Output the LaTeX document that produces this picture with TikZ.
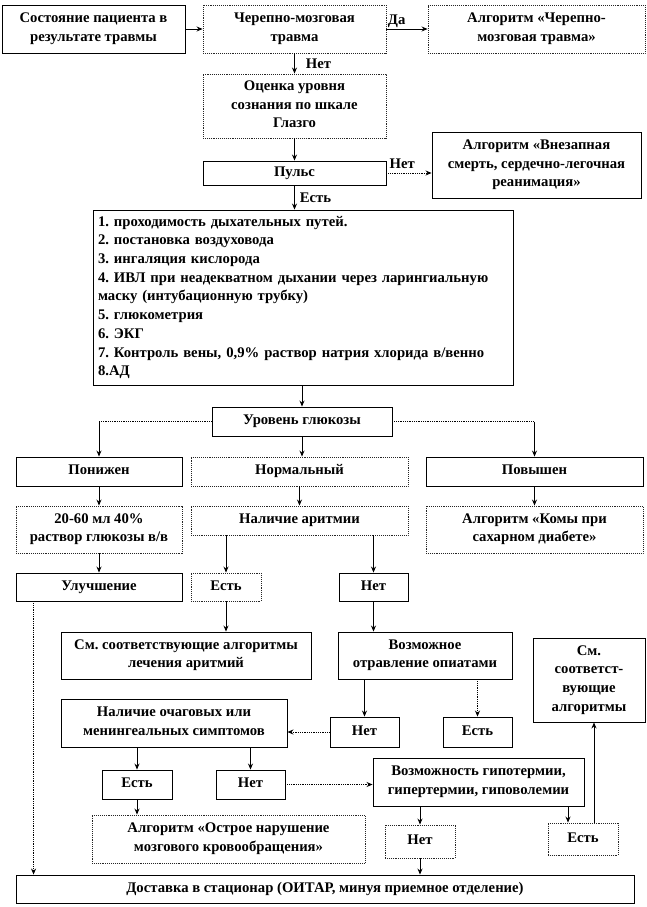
\documentclass[tikz,border=0pt]{standalone}
\usepackage{fontspec}
\setmainfont{Liberation Serif}
\frenchspacing
\usetikzlibrary{arrows.meta,calc}
\tikzset{
 base/.style={font=\bfseries\fontsize{14.7}{18.7}\selectfont, align=center, inner sep=0pt, text depth=3.5pt, line width=0.9pt},
 sbox/.style={base, draw=black},
 dbox/.style={base, draw=black!85, densely dotted},
 arr/.style={-{Stealth[length=6pt,width=5pt]}, line width=0.8pt, black},
 darr/.style={arr, densely dotted},
 dline/.style={line width=0.8pt, densely dotted},
 lbl/.style={font=\bfseries\fontsize{14.7}{16}\selectfont, inner sep=1pt},
}
\newcommand\bx[7]{\node[#6, minimum width={(#4)-(#2)}, minimum height={(#5)-(#3)}] (#1) at ({((#2)+(#4))/2},{((#3)+(#5))/2}) {#7};}
\begin{document}
\begin{tikzpicture}[x=1pt,y=-1pt]
\useasboundingbox (0,0) rectangle (646,907);
\bx{s}{2}{5}{185}{53}{sbox}{Состояние пациента в\\результате травмы}
\bx{tbi}{203}{5}{386}{53}{dbox}{Черепно-мозговая\\травма}
\bx{atbi}{428}{5}{645}{53}{dbox}{Алгоритм «Черепно-\\мозговая травма»}
\bx{gcs}{203}{74}{386}{138}{dbox}{Оценка уровня\\сознания по шкале\\Глазго}
\bx{pulse}{203}{161}{386}{185}{sbox}{Пульс}
\bx{cpr}{432}{132}{641}{198}{sbox}{Алгоритм «Внезапная\\смерть, сердечно-легочная\\реанимация»}
\node[sbox, align=left, text depth=, text width=410pt, minimum height=175pt, inner xsep=5pt] (list) at (303,297.5) {%
1. проходимость дыхательных путей.\\
2. постановка воздуховода\\
3. ингаляция кислорода\\
4. ИВЛ при неадекватном дыхании через ларингиальную\\
маску (интубационную трубку)\\
5. глюкометрия\\
6. ЭКГ\\
7. Контроль вены, 0,9\% раствор натрия хлорида в/венно\\
8.АД};
\bx{glu}{212}{407}{392}{436}{sbox}{Уровень глюкозы}
\bx{low}{16}{457}{182}{486}{sbox}{Понижен}
\bx{norm}{191}{457}{408}{486}{dbox}{Нормальный}
\bx{high}{426}{457}{643}{486}{sbox}{Повышен}
\bx{dex}{16}{506}{182}{553}{dbox}{20-60 мл 40\%\\раствор глюкозы в/в}
\bx{arrh}{191}{506}{408}{535}{dbox}{Наличие аритмии}
\bx{coma}{426}{506}{643}{553}{dbox}{Алгоритм «Комы при\\сахарном диабете»}
\bx{impr}{16}{573}{182}{601}{sbox}{Улучшение}
\bx{yes1}{191}{573}{261}{601}{dbox}{Есть}
\bx{no1}{339}{573}{408}{601}{sbox}{Нет}
\bx{seea}{61}{632}{311}{679}{sbox}{См. соответствующие алгоритмы\\лечения аритмий}
\bx{opi}{338}{632}{512}{679}{sbox}{Возможное\\отравление опиатами}
\bx{seeo}{533}{638}{645}{722}{sbox}{См.\\соответст-\\вующие\\алгоритмы}
\bx{foc}{61}{699}{287}{747}{sbox}{Наличие очаговых или\\менингеальных симптомов}
\bx{no2}{330}{717}{399}{747}{sbox}{Нет}
\bx{yes2}{443}{717}{512}{747}{sbox}{Есть}
\bx{yes3}{102}{770}{172}{799}{sbox}{Есть}
\bx{no3}{216}{770}{285}{799}{sbox}{Нет}
\bx{poss}{373}{758}{584}{806}{sbox}{Возможность гипотермии,\\гипертермии, гиповолемии}
\bx{strk}{92}{815}{365}{863}{dbox}{Алгоритм «Острое нарушение\\мозгового кровообращения»}
\bx{no4}{385}{825}{455}{858}{dbox}{Нет}
\bx{yes4}{548}{823}{618}{855}{dbox}{Есть}
\bx{deliv}{16}{875}{634}{903}{sbox}{Доставка в стационар (ОИТАР, минуя приемное отделение)}
% connectors
\draw[arr] (s) -- (tbi);
\draw[arr] (tbi) -- node[lbl, above, pos=0.25]{Да} (atbi);
\draw[arr] (tbi) -- node[lbl, right, xshift=10pt]{Нет} (gcs);
\draw[arr] (gcs) -- (pulse);
\draw[darr] (pulse.east) -- node[lbl, above, pos=0.35, yshift=3pt]{Нет} (pulse.east -| cpr.west);
\draw[arr] (pulse.south) -- node[lbl, right, xshift=4pt]{Есть} (pulse.south |- list.north);
\draw[arr] (list.south -| glu.north) -- (glu.north);
\coordinate (gl) at (glu.west -| low.north);
\coordinate (gr) at (glu.east -| high.north);
\draw[dline] (glu.west) -- (gl);
\draw[arr] (gl) -- (low.north);
\draw[dline] (glu.east) -- (gr);
\draw[arr] (gr) -- (high.north);
\draw[arr] (glu.south) -- (glu.south |- norm.north);
\draw[arr] (low) -- (dex);
\draw[arr] (dex) -- (impr);
\draw[arr] (norm) -- (arrh);
\draw[arr] (high) -- (coma);
\draw[arr] (arrh.south -| yes1) -- (yes1.north);
\draw[arr] (arrh.south -| no1) -- (no1.north);
\draw[arr] (yes1.south) -- (yes1.south |- seea.north);
\draw[arr] (no1.south) -- (no1.south |- opi.north);
\draw[darr] ([xshift=18pt]impr.south west) -- ([xshift=18pt]impr.south west |- deliv.north);
\draw[arr] (opi.south -| no2) -- (no2.north);
\draw[darr] (opi.south -| yes2) -- (yes2.north);
\draw[darr] (no2.west) -- (no2.west -| foc.east);
\draw[arr] (foc.south -| yes3) -- (yes3.north);
\draw[arr] (foc.south -| no3) -- (no3.north);
\draw[arr] (yes3.south) -- (yes3.south |- strk.north);
\draw[darr] (no3.east) -- (no3.east -| poss.west);
\draw[arr] (poss.south -| no4) -- (no4.north);
\draw[arr] ([xshift=-15pt]yes4.north |- poss.south) -- ([xshift=-15pt]yes4.north);
\draw[arr] (no4.south) -- (no4.south |- deliv.north);
\draw[arr] ([xshift=11pt]yes4.north) -- ([xshift=11pt]yes4.north |- seeo.south);
\end{tikzpicture}
\end{document}
